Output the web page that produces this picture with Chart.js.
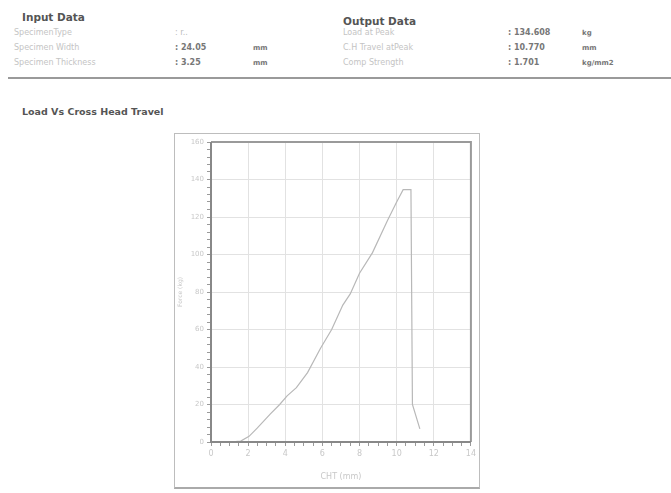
<!DOCTYPE html>
<html>
<head>
<meta charset="utf-8">
<script src="https://cdn.jsdelivr.net/npm/chart.js@4/dist/chart.umd.min.js"></script>
<style>
  html,body{margin:0;padding:0;background:#fff;}
  body{width:671px;height:493px;position:relative;overflow:hidden;font-family:"DejaVu Sans",sans-serif;}
  .t{position:absolute;white-space:nowrap;line-height:1;}
  .h{font-weight:bold;font-size:10.5px;color:#555;}
  .l{font-size:8px;color:#c4c4c4;}
  .v{font-size:8px;color:#777;font-weight:bold;}
  .rule{position:absolute;left:8px;right:0;top:77px;height:2px;background:#9a9a9a;}
  .frame{position:absolute;left:174px;top:133px;width:306px;height:356px;border:1px solid #bdbdbd;border-bottom:2px solid #aaa;box-sizing:border-box;}
  #wrap{position:absolute;left:175px;top:134px;width:304px;height:354px;}
</style>
</head>
<body>
<div class="t h" style="left:22px;top:12px;">Input Data</div>
<div class="t l" style="left:14px;top:29px;">SpecimenType</div>
<div class="t l" style="left:14px;top:44px;">Specimen Width</div>
<div class="t l" style="left:14px;top:59px;">Specimen Thickness</div>
<div class="t v" style="left:175px;top:29px;color:#bbb;font-weight:normal;">: r..</div>
<div class="t v" style="left:175px;top:44px;">: 24.05</div>
<div class="t v" style="left:175px;top:59px;">: 3.25</div>
<div class="t v" style="left:253px;top:45px;font-size:7px;">mm</div>
<div class="t v" style="left:253px;top:60px;font-size:7px;">mm</div>

<div class="t h" style="left:343px;top:16px;">Output Data</div>
<div class="t l" style="left:343px;top:29px;">Load at Peak</div>
<div class="t l" style="left:343px;top:44px;">C.H Travel atPeak</div>
<div class="t l" style="left:343px;top:59px;">Comp Strength</div>
<div class="t v" style="left:508px;top:29px;">: 134.608</div>
<div class="t v" style="left:508px;top:44px;">: 10.770</div>
<div class="t v" style="left:508px;top:59px;">: 1.701</div>
<div class="t v" style="left:582px;top:30px;font-size:7px;">kg</div>
<div class="t v" style="left:582px;top:45px;font-size:7px;">mm</div>
<div class="t v" style="left:582px;top:60px;font-size:7px;">kg/mm2</div>
<div class="rule"></div>

<div class="t h" style="left:22px;top:107px;font-size:9.5px;">Load Vs Cross Head Travel</div>

<div class="frame"></div>
<div id="wrap"><canvas id="c"></canvas></div>

<script>
// Cross head travel (mm) and load (kg)
const travel = [0, 1.0, 1.6, 2.05, 2.5, 3.2, 3.7, 4.1, 4.6, 5.2, 5.9, 6.5, 7.1, 7.5, 8.0, 8.7, 9.5, 10.0, 10.35, 10.77, 10.85, 11.25];
const load   = [0, 0,   0.5, 3,    7.5, 15,  20,  24.6, 29, 37,  50,  60,  73,  79,  90,  101, 118, 128,  134.6, 134.6, 20,  7];
const xTickLabels = ["0","2","4","6","8","10","12","14"];
const yTickLabels = ["0","20","40","60","80","100","120","140","160"];
const xTitle = "CHT (mm)";
const yTitle = "Force (kg)";

const points = travel.map((t, i) => ({x: t, y: load[i]}));

const framePlugin = {
  id: 'frame',
  afterDraw(chart) {
    const a = chart.chartArea, ctx = chart.ctx;
    ctx.save();
    ctx.strokeStyle = '#9a9a9a';
    ctx.lineWidth = 2;
    ctx.beginPath();
    ctx.moveTo(a.left, a.top); ctx.lineTo(a.right, a.top); ctx.lineTo(a.right, a.bottom);
    ctx.stroke();
    ctx.strokeStyle = '#888';
    ctx.beginPath();
    ctx.moveTo(a.left, a.top); ctx.lineTo(a.left, a.bottom); ctx.lineTo(a.right, a.bottom);
    ctx.stroke();
    ctx.restore();
  }
};

new Chart(document.getElementById('c'), {
  type: 'line',
  data: {
    datasets: [{
      data: points,
      borderColor: '#b8b8b8',
      borderWidth: 1.2,
      pointRadius: 0,
      tension: 0,
      fill: false
    }]
  },
  options: {
    responsive: true,
    maintainAspectRatio: false,
    animation: false,
    layout: {padding: {left: 2, right: 8, top: 8, bottom: 2}},
    plugins: {legend: {display: false}, tooltip: {enabled: false}},
    scales: {
      x: {
        type: 'linear', min: 0, max: 14,
        ticks: {
          stepSize: 0.5, autoSkip: false, maxRotation: 0,
          color: '#c8c8c8', font: {size: 8, family: 'DejaVu Sans'},
          callback: (v) => (Number.isInteger(v) && v % 2 === 0) ? xTickLabels[v / 2] : ''
        },
        grid: {
          color: (c) => (c.tick && c.tick.value % 2 === 0) ? '#e2e2e2' : 'rgba(0,0,0,0)',
          tickColor: '#9a9a9a', tickLength: 4, lineWidth: 1
        },
        border: {display: false},
        title: {display: true, text: xTitle, color: '#c8c8c8', font: {size: 8, family: 'DejaVu Sans'}, padding: {top: 4}},
        afterFit: (s) => { s.height = 44; }
      },
      y: {
        min: 0, max: 160,
        ticks: {
          stepSize: 4, autoSkip: false,
          color: '#c8c8c8', font: {size: 7, family: 'DejaVu Sans'},
          callback: (v) => (v % 20 === 0) ? yTickLabels[v / 20] : ''
        },
        grid: {
          color: (c) => (c.tick && c.tick.value % 20 === 0) ? '#e2e2e2' : 'rgba(0,0,0,0)',
          tickColor: '#9a9a9a', tickLength: 4, lineWidth: 1
        },
        border: {display: false},
        title: {display: true, text: yTitle, color: '#c8c8c8', font: {size: 6, family: 'DejaVu Sans'}, padding: 0},
        afterFit: (s) => { s.width = 34; }
      }
    }
  },
  plugins: [framePlugin]
});
</script>
</body>
</html>
